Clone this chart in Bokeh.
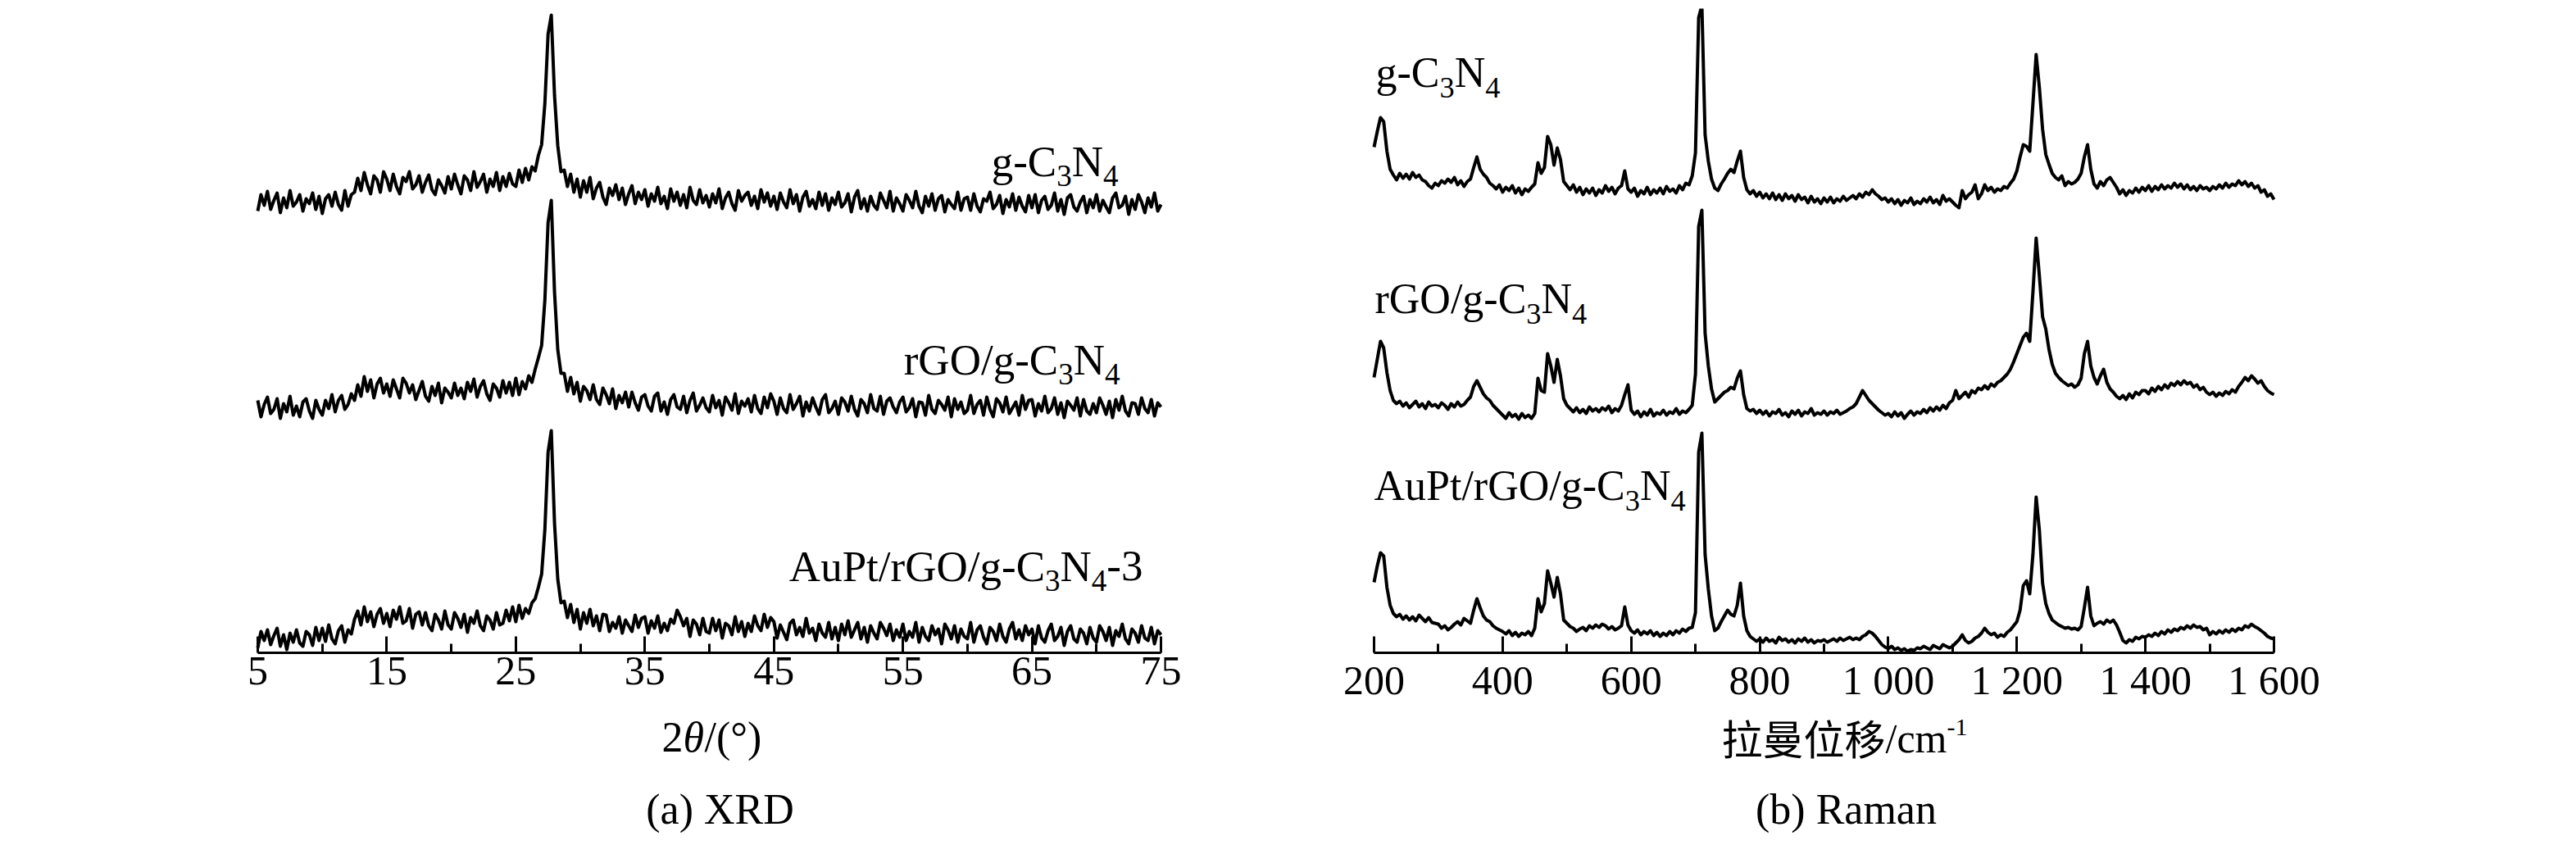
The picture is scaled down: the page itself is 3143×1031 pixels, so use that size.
import numpy as np
from bokeh.plotting import figure
from bokeh.layouts import row
from bokeh.models import Label, FixedTicker, Range1d
from bokeh.embed import file_html
from bokeh.resources import INLINE

# ---------------- data ----------------
# XRD: 2theta from 5 to 75 deg, step 0.25 deg (relative intensity, a.u.)
xrd_start, xrd_step = 5.0, 0.25
xrd_g_c3n4 = [
    -1, 19, 6, 23, 1, 12, 21, -3, 15, 3, 24, 5, 10, 19, -1, 14, 8, 21, 1, 17,
    -4, 14, 19, 5, 22, 7, 0, 24, 5, 19, 22, 39, 24, 46, 31, 20, 42, 37, 22, 47,
    38, 24, 44, 29, 20, 40, 35, 47, 26, 31, 42, 22, 34, 43, 25, 19, 37, 30, 21, 41,
    26, 44, 31, 20, 42, 37, 24, 47, 28, 35, 44, 22, 38, 29, 46, 24, 41, 29, 45, 32,
    29, 49, 34, 51, 37, 53, 48, 67, 80, 130, 215, 238, 140, 79, 47, 49, 29, 44, 22, 38,
    16, 36, 22, 40, 14, 27, 34, 16, 7, 27, 18, 31, 13, 27, 7, 20, 30, 8, 22, 13,
    25, 5, 20, 11, 28, 8, 17, 2, 26, 11, 22, 6, 19, 3, 28, 12, 7, 25, 9, 18,
    4, 20, 9, 26, 2, 15, 22, 8, 0, 24, 11, 18, 22, 6, 17, 2, 25, 10, 21, 5,
    17, 1, 21, 10, 3, 25, 8, 19, -1, 16, 23, 5, 13, 2, 22, 6, 20, 0, 15, 7,
    22, 4, 9, 20, -2, 16, 24, 2, 14, -1, 17, 6, 1, 21, 12, 3, 23, -1, 15, 8,
    -1, 19, 12, 3, 23, 5, -3, 17, 5, 20, 0, 14, 18, -2, 13, 7, 2, 22, 0, 14,
    16, 0, 20, 5, -2, 14, 11, 22, 2, 7, 18, -4, 13, 4, 20, 0, 16, 5, -2, 18,
    3, 19, -3, 12, 17, 1, 6, 21, -1, 13, -5, 15, 19, 4, -1, 10, 17, -3, 13, 3,
    19, -1, 12, 4, -3, 15, 21, 3, 6, 17, -5, 13, 1, 19, 10, -3, 15, 4, 21, -1,
    7,
]
xrd_rgo_g_c3n4 = [
    18, -2, 13, 22, 2, 7, 20, -4, 14, 4, 23, 0, 11, -2, 16, 20, 5, -4, 18, 7,
    0, 18, 8, 25, 4, 18, 24, 7, 13, 26, 18, 37, 23, 47, 29, 43, 21, 38, 45, 27,
    38, 23, 43, 32, 21, 45, 39, 27, 37, 19, 30, 41, 23, 17, 35, 24, 39, 15, 33, 28,
    21, 39, 24, 33, 20, 40, 29, 44, 22, 35, 42, 26, 18, 38, 33, 22, 42, 27, 40, 24,
    45, 25, 41, 32, 48, 40, 56, 70, 85, 140, 235, 262, 150, 80, 51, 51, 29, 46, 26, 40,
    17, 35, 30, 19, 37, 19, 13, 33, 25, 14, 32, 8, 24, 15, 28, 10, 28, 15, 6, 22,
    25, 11, 5, 23, 27, 5, 16, 1, 19, 25, 10, 7, 23, 3, 18, 27, 5, 12, 21, 9,
    4, 24, 9, 18, 0, 22, 15, 6, 26, 2, 17, 11, 20, 4, 24, 8, 2, 22, 9, 26,
    17, 1, 21, 8, 3, 25, 7, 14, 23, -1, 16, 5, 21, 10, 1, 19, 25, 3, 8, 17,
    1, 21, 16, 5, 23, 7, -1, 19, 14, 3, 25, 8, 5, 23, 1, 17, 21, 10, 3, 16,
    22, 4, 9, 20, -2, 16, 15, 0, 24, 7, 2, 18, 13, 6, 22, -2, 20, 7, 16, 2,
    6, 24, 2, 13, 18, 0, 22, 7, -2, 20, 15, 4, 22, 2, 9, 16, 0, 24, 7, 18,
    19, -1, 14, 5, 23, 3, 8, 21, 1, 15, -3, 17, 12, 6, 21, -1, 19, 5, 1, 14,
    3, 21, 12, 1, 17, -3, 19, 6, 23, 5, -1, 15, 14, 1, 21, 8, 3, 19, -1, 15,
    10,
]
xrd_aupt_rgo_g_c3n4 = [
    -4, 16, 5, 18, 0, 11, 20, -2, 12, -6, 14, 3, 18, 2, -2, 16, 12, -1, 21, 5,
    20, 4, 24, 7, 1, 17, 23, 3, 18, 13, 31, 41, 24, 46, 28, 40, 22, 37, 44, 26,
    38, 22, 42, 31, 46, 26, 29, 44, 20, 37, 40, 24, 39, 23, 17, 37, 30, 19, 41, 24,
    19, 39, 32, 21, 37, 15, 33, 26, 41, 23, 17, 35, 30, 19, 39, 24, 26, 42, 29, 46,
    28, 48, 32, 44, 38, 51, 56, 70, 86, 140, 235, 261, 148, 80, 51, 53, 33, 49, 27, 43,
    19, 39, 26, 43, 23, 35, 17, 37, 36, 16, 27, 20, 34, 14, 30, 23, 16, 36, 21, 32,
    34, 14, 29, 20, 35, 15, 26, 17, 31, 26, 42, 34, 23, 32, 10, 30, 25, 12, 32, 16,
    14, 32, 17, 30, 8, 26, 23, 12, 34, 16, 28, 10, 26, 16, 35, 23, 17, 37, 21, 33,
    28, 8, 24, 15, 6, 26, 30, 12, 21, 10, 32, 14, 20, 5, 25, 14, 9, 27, 7, 21,
    5, 25, 12, 29, 9, 18, 27, 7, 21, 3, 23, 14, 7, 27, 20, 11, 25, 5, 18, 9,
    25, 5, 16, 9, 27, 3, 21, 10, 5, 23, 12, 19, 1, 25, 18, 7, 23, 3, 19, 10,
    7, 27, 3, 18, 23, 9, 1, 21, 16, 5, 25, 10, 3, 19, 27, 7, 18, 5, 23, 12,
    19, 1, 23, 8, 3, 17, 25, 5, 10, 21, -1, 16, 23, 7, 3, 19, 14, 1, 21, 8,
    3, 23, 16, 5, 21, -1, 17, 10, 25, 7, 1, 19, 14, 3, 23, 8, 5, 21, 1, 17,
    12,
]

# Raman: shift from 200 to 1600 cm-1, step 5 cm-1 (relative intensity, a.u.)
raman_start, raman_step = 200, 5
raman_g_c3n4 = [
    77, 96, 113, 108, 72, 50, 43, 37, 45, 39,
    44, 38, 46, 40, 43, 37, 35, 30, 27, 33,
    30, 36, 33, 38, 34, 40, 31, 36, 29, 35,
    38, 52, 65, 50, 44, 40, 33, 30, 26, 31,
    22, 28, 24, 30, 21, 27, 19, 26, 23, 28,
    32, 58, 45, 52, 90, 80, 55, 76, 62, 35,
    30, 25, 31, 22, 28, 19, 26, 21, 27, 18,
    25, 21, 30, 23, 28, 20, 27, 30, 48, 26,
    22, 27, 17, 24, 20, 28, 19, 25, 21, 27,
    20, 29, 23, 26, 21, 30, 25, 33, 31, 42,
    70, 235, 250, 92, 60, 38, 27, 24, 32, 38,
    45, 50, 46, 60, 72, 40, 25, 20, 24, 17,
    22, 15, 20, 14, 21, 13, 19, 12, 20, 14,
    18, 11, 19, 13, 16, 9, 17, 10, 14, 8,
    15, 10, 16, 9, 14, 11, 17, 12, 15, 18,
    14, 20, 16, 22, 19, 25, 20, 17, 13, 15,
    10, 14, 8, 13, 6, 12, 9, 15, 7, 11,
    8, 14, 10, 16, 9, 13, 7, 18, 11, 14,
    10, 6, 3, 24, 14, 19, 22, 31, 14, 20,
    31, 24, 28, 22, 26, 24, 29, 27, 33, 38,
    48, 65, 80, 78, 72, 130, 190, 150, 99, 68,
    56, 45, 40, 37, 42, 30, 35, 32, 34, 38,
    45, 65, 80, 50, 32, 27, 35, 30, 37, 40,
    34, 28, 20, 25, 18, 24, 21, 27, 22, 28,
    24, 30, 23, 29, 25, 31, 26, 30, 27, 33,
    28, 32, 26, 31, 25, 29, 24, 30, 26, 28,
    24, 29, 26, 31, 27, 33, 28, 32, 30, 36,
    31, 35, 29, 33, 27, 30, 22, 25, 17, 20,
    13,
]
raman_rgo_g_c3n4 = [
    56, 78, 100, 92, 62, 40, 28, 24, 27, 21,
    25, 19, 23, 27, 20, 24, 18, 26, 21, 23,
    19, 25, 22, 17, 24, 20, 26, 21, 23, 28,
    32, 45, 52, 44, 36, 31, 28, 22, 18, 14,
    10, 6, 13, 8, 11, 5, 12, 7, 10, 6,
    12, 55, 40, 38, 85, 70, 50, 78, 58, 30,
    22, 18, 14, 19, 13, 17, 12, 20, 15, 18,
    14, 19, 16, 21, 13, 18, 15, 22, 35, 47,
    16, 11, 15, 8, 14, 10, 17, 9, 13, 11,
    16, 10, 14, 12, 18, 11, 15, 13, 17, 22,
    60, 240, 260, 110, 70, 42, 26, 30, 34, 38,
    40, 44, 42, 55, 64, 35, 18, 15, 17, 12,
    16, 11, 15, 9, 14, 12, 17, 10, 13, 8,
    15, 11, 16, 9, 14, 12, 18, 10, 13, 11,
    15, 10, 14, 12, 16, 11, 13, 15, 18, 20,
    24, 32, 40, 34, 28, 24, 20, 16, 13, 10,
    12, 8, 14, 9, 13, 6, 11, 15, 10, 14,
    12, 17, 13, 19, 15, 20, 16, 22, 18, 25,
    28, 40, 30, 34, 38, 32, 40, 37, 43, 41,
    46, 42, 48, 45, 50, 52, 56, 60, 66, 75,
    85, 95, 105, 110, 100, 160, 226, 180, 130, 115,
    90, 72, 61, 56, 52, 49, 46, 48, 44, 47,
    55, 85, 100, 70, 56, 48, 58, 66, 50, 42,
    38, 33, 30, 34, 29, 36, 31, 38, 35, 40,
    40, 36, 43, 39, 45, 41, 47, 43, 49, 46,
    51, 47, 52, 48, 50, 44, 47, 41, 44, 38,
    35, 38, 33, 37, 34, 39, 36, 41, 38, 45,
    50, 56, 52, 58, 54, 49, 52, 45, 40, 37,
    35,
]
raman_aupt_rgo_g_c3n4 = [
    86, 106, 122, 118, 80, 58, 48, 44, 47, 41,
    45, 40, 44, 39, 46, 42, 38, 43, 37, 36,
    35, 30, 33, 28, 31, 35, 38, 34, 42, 39,
    36, 52, 66, 55, 45, 40, 38, 33, 30, 28,
    26, 23, 27, 21, 25, 20, 24, 22, 26, 21,
    30, 66, 50, 60, 100, 85, 68, 92, 72, 40,
    36, 32, 30, 26, 29, 31, 27, 33, 30, 34,
    31, 35, 33, 29, 32, 28, 30, 33, 56, 34,
    27, 24, 28, 22, 26, 23, 27, 21, 25, 20,
    24, 21, 26, 22, 27, 24, 29, 26, 30, 31,
    49, 245, 268, 120, 78, 45, 27, 30, 38, 45,
    52, 47, 45, 58, 85, 45, 27, 20, 17, 14,
    17, 13, 18, 14, 16, 12, 19, 15, 17, 13,
    16, 12, 17, 14, 18, 13, 16, 12, 15, 14,
    16, 13, 15, 17, 14, 18, 15, 17, 19, 16,
    18, 16, 20, 22, 26, 24, 20, 15, 10, 7,
    5, 8, 4, 6, 3, 5, 2, 4, 3, 6,
    5, 8, 6, 4, 9, 7, 5, 10, 8, 6,
    8, 12, 16, 22, 15, 12, 14, 18, 20, 24,
    30, 25, 22, 24, 19, 22, 20, 25, 28, 33,
    38, 52, 82, 88, 72, 120, 190, 150, 85, 60,
    48, 40, 37, 34, 32, 30, 31, 29, 30, 28,
    32, 55, 80, 45, 33, 36, 38, 35, 40, 37,
    40, 34, 25, 15, 12, 16, 14, 19, 17, 20,
    19, 22, 20, 24, 21, 26, 23, 28, 25, 29,
    27, 31, 29, 33, 30, 34, 31, 32, 28, 30,
    22, 26, 23, 27, 24, 28, 25, 29, 26, 30,
    28, 33, 31, 35, 32, 30, 27, 24, 20, 18,
    17,
]

xrd_major_ticks = [5, 15, 25, 35, 45, 55, 65, 75]
xrd_minor_ticks = [10, 20, 30, 40, 50, 60, 70]
raman_major_ticks = [200, 400, 600, 800, 1000, 1200, 1400, 1600]
raman_minor_ticks = [300, 500, 700, 900, 1100, 1300, 1500]
raman_tick_labels = ["200", "400", "600", "800", "1 000", "1 200", "1 400", "1 600"]

# sample names as rich-text segments (text, kind)
name_g = [("g-C", "n"), ("3", "sub"), ("N", "n"), ("4", "sub")]
name_rgo = [("rGO/g-C", "n"), ("3", "sub"), ("N", "n"), ("4", "sub")]
name_aupt = [("AuPt/rGO/g-C", "n"), ("3", "sub"), ("N", "n"), ("4", "sub")]
name_aupt3 = name_aupt + [("-3", "n")]
xrd_xlabel = [("2", "n"), ("θ", "it"), ("/(°)", "n")]
raman_xlabel = [("拉曼位移", "cjk"), ("/cm", "n"), ("-1", "sup")]
xrd_caption = [("(a) XRD", "n")]
raman_caption = [("(b) Raman", "n")]

# ---------------- layout / style ----------------
SERIF = "Liberation Serif"
CJK = "Noto Sans CJK SC"
AXIS_Y = 796      # page y of the x axis line
TOP_Y = 10        # page y of the frame top
BOT_Y = 1022      # page y of the frame bottom
PAD = 70          # frame extends this far beyond the axis ends

WID = {' ': 250, '(': 333, ')': 333, '-': 333, '/': 278, 'A': 722, 'C': 667, 'D': 722,
       'G': 722, 'N': 722, 'O': 722, 'P': 556, 'R': 667, 'X': 722, 'a': 444, 'b': 500,
       'c': 444, 'g': 500, 'm': 778, 'n': 500, 'r': 333, 't': 278, 'u': 500, '°': 400,
       'θ': 500}


def text_w(s, size):
    return sum(WID.get(ch, 500) for ch in s) * size / 1000.0


def rich(p, segs, px, base, size, to_data, align="left"):
    """Place a run of text pieces; `base` is the page y of the main baseline."""
    parts = []
    for t, k in segs:
        if k == "sub":
            s, dy = size * 0.7, size * 0.24
        elif k == "sup":
            s, dy = size * 0.6, -size * 0.4
        else:
            s, dy = size, 0.0
        w = len(t) * s if k == "cjk" else text_w(t, s)
        parts.append((t, k, s, dy, w))
    total = sum(q[4] for q in parts)
    x = px
    if align == "center":
        x = px - total / 2
    elif align == "right":
        x = px - total
    for t, k, s, dy, w in parts:
        mid = base + dy - (0.38 if k == "cjk" else 0.3375) * s
        dx, dyy = to_data(x, mid)
        p.add_layout(Label(x=dx, y=dyy, text=t,
                           text_font=CJK if k == "cjk" else SERIF,
                           text_font_style="italic" if k == "it" else "normal",
                           text_font_size=f"{s:.1f}px", text_color="black",
                           text_align="left", text_baseline="middle"))
        x += w


def make_fig(fig_left_page, width, axis_left_page, axis_w, xr):
    k = (xr[1] - xr[0]) / axis_w          # data units per px
    frame_left_page = axis_left_page - PAD
    frame_w = axis_w + 2 * PAD
    x_start, x_end = xr[0] - PAD * k, xr[1] + PAD * k
    p = figure(frame_width=frame_w, frame_height=BOT_Y - TOP_Y,
               output_backend="svg", toolbar_location=None,
               x_range=Range1d(x_start, x_end), y_range=Range1d(AXIS_Y - BOT_Y, AXIS_Y - TOP_Y),
               y_axis_location=None,
               min_border_left=frame_left_page - fig_left_page,
               min_border_right=width - (frame_left_page - fig_left_page) - frame_w,
               min_border_top=TOP_Y, min_border_bottom=0)
    p.xgrid.visible = False
    p.ygrid.visible = False
    p.outline_line_color = None
    p.background_fill_color = "white"
    p.border_fill_color = "white"
    ax = p.xaxis[0]
    ax.fixed_location = 0
    ax.bounds = xr
    ax.axis_line_width = 3
    ax.axis_line_color = "black"
    ax.major_tick_in = 20
    ax.major_tick_out = 0
    ax.minor_tick_in = 11
    ax.minor_tick_out = 0
    ax.major_tick_line_width = 3
    ax.minor_tick_line_width = 3
    ax.major_tick_line_color = "black"
    ax.minor_tick_line_color = "black"
    ax.major_label_text_font = SERIF
    ax.major_label_text_font_size = "50px"
    ax.major_label_text_color = "black"
    ax.major_label_standoff = 5

    def to_data(px, py):
        return xr[0] + (px - axis_left_page) * k, AXIS_Y - py
    return p, to_data


# ---- XRD panel ----
p1, d1 = make_fig(0, 1575, 314, 1102, (5, 75))
p1.xaxis[0].ticker = FixedTicker(ticks=xrd_major_ticks, minor_ticks=xrd_minor_ticks)
x_xrd = xrd_start + xrd_step * np.arange(len(xrd_g_c3n4))
for vals, off in ((xrd_g_c3n4, 540), (xrd_rgo_g_c3n4, 290), (xrd_aupt_rgo_g_c3n4, 10)):
    p1.line(x_xrd, np.array(vals) + off, line_color="black", line_width=4,
            line_join="round")

rich(p1, name_g, 1364, 214, 53, d1, align="right")
rich(p1, name_rgo, 1366, 456, 53, d1, align="right")
rich(p1, name_aupt3, 1394, 708, 53, d1, align="right")
rich(p1, xrd_xlabel, 868, 917, 52, d1, align="center")
rich(p1, xrd_caption, 878, 1005, 52, d1, align="center")

# ---- Raman panel ----
p2, d2 = make_fig(1575, 1545, 1676, 1098, (200, 1600))
p2.xaxis[0].ticker = FixedTicker(ticks=raman_major_ticks, minor_ticks=raman_minor_ticks)
p2.xaxis[0].major_label_overrides = {t: l for t, l in zip(raman_major_ticks, raman_tick_labels)}
x_ram = raman_start + raman_step * np.arange(len(raman_g_c3n4))
for vals, off in ((raman_g_c3n4, 540), (raman_rgo_g_c3n4, 280), (raman_aupt_rgo_g_c3n4, 0)):
    p2.line(x_ram, np.array(vals) + off, line_color="black", line_width=4,
            line_join="round")

rich(p2, name_g, 1678, 106, 52, d2)
rich(p2, name_rgo, 1677, 382, 52, d2)
rich(p2, name_aupt, 1676, 610, 52, d2)
rich(p2, raman_xlabel, 2250, 917, 50, d2, align="center")
rich(p2, raman_caption, 2252, 1005, 52, d2, align="center")

layout = row(p1, p2)
open("out.html", "w").write(file_html(layout, INLINE))
